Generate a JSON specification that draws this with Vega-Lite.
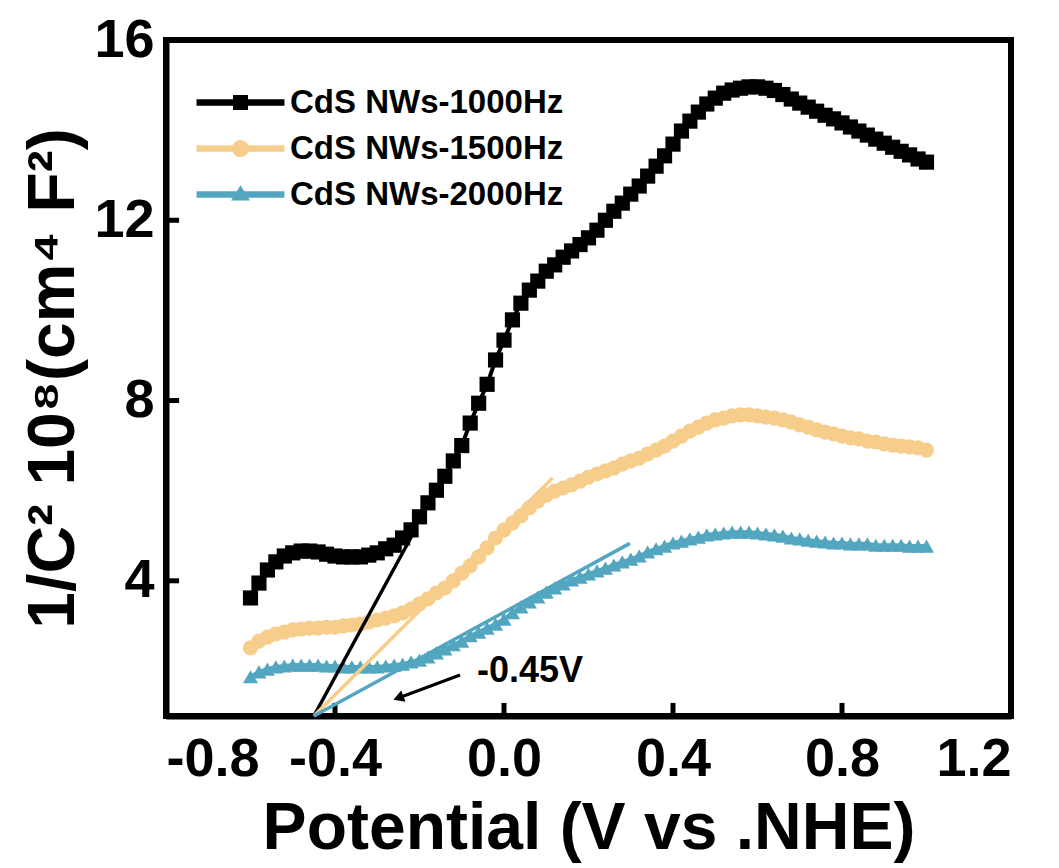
{
  "$schema": "https://vega.github.io/schema/vega-lite/v6.json",
  "width": 845,
  "height": 676,
  "autosize": "none",
  "padding": {"left": 166, "top": 40, "right": 48, "bottom": 152},
  "background": "white",
  "config": {
    "font": "Liberation Sans",
    "view": {"stroke": "black", "strokeWidth": 6},
    "axis": {
      "grid": false,
      "ticks": false,
      "domainColor": "black",
      "domainWidth": 6,
      "labelFont": "Liberation Sans",
      "labelFontWeight": "bold",
      "labelFontSize": 54,
      "labelColor": "black",
      "titleFont": "Liberation Sans",
      "titleFontWeight": "bold",
      "titleFontSize": 66,
      "titleColor": "black"
    }
  },
  "datasets": {
    "curves": [
      {"series": "CdS NWs-1000Hz", "E": -0.60, "invC2": 3.62},
      {"series": "CdS NWs-1000Hz", "E": -0.58, "invC2": 3.95},
      {"series": "CdS NWs-1000Hz", "E": -0.56, "invC2": 4.24},
      {"series": "CdS NWs-1000Hz", "E": -0.54, "invC2": 4.42},
      {"series": "CdS NWs-1000Hz", "E": -0.52, "invC2": 4.55},
      {"series": "CdS NWs-1000Hz", "E": -0.50, "invC2": 4.62},
      {"series": "CdS NWs-1000Hz", "E": -0.48, "invC2": 4.66},
      {"series": "CdS NWs-1000Hz", "E": -0.46, "invC2": 4.66},
      {"series": "CdS NWs-1000Hz", "E": -0.44, "invC2": 4.64},
      {"series": "CdS NWs-1000Hz", "E": -0.42, "invC2": 4.59},
      {"series": "CdS NWs-1000Hz", "E": -0.40, "invC2": 4.55},
      {"series": "CdS NWs-1000Hz", "E": -0.38, "invC2": 4.53},
      {"series": "CdS NWs-1000Hz", "E": -0.36, "invC2": 4.53},
      {"series": "CdS NWs-1000Hz", "E": -0.34, "invC2": 4.53},
      {"series": "CdS NWs-1000Hz", "E": -0.32, "invC2": 4.57},
      {"series": "CdS NWs-1000Hz", "E": -0.30, "invC2": 4.62},
      {"series": "CdS NWs-1000Hz", "E": -0.28, "invC2": 4.71},
      {"series": "CdS NWs-1000Hz", "E": -0.26, "invC2": 4.79},
      {"series": "CdS NWs-1000Hz", "E": -0.24, "invC2": 4.95},
      {"series": "CdS NWs-1000Hz", "E": -0.22, "invC2": 5.13},
      {"series": "CdS NWs-1000Hz", "E": -0.20, "invC2": 5.42},
      {"series": "CdS NWs-1000Hz", "E": -0.18, "invC2": 5.73},
      {"series": "CdS NWs-1000Hz", "E": -0.16, "invC2": 6.01},
      {"series": "CdS NWs-1000Hz", "E": -0.14, "invC2": 6.32},
      {"series": "CdS NWs-1000Hz", "E": -0.12, "invC2": 6.66},
      {"series": "CdS NWs-1000Hz", "E": -0.10, "invC2": 7.00},
      {"series": "CdS NWs-1000Hz", "E": -0.08, "invC2": 7.50},
      {"series": "CdS NWs-1000Hz", "E": -0.06, "invC2": 7.94},
      {"series": "CdS NWs-1000Hz", "E": -0.04, "invC2": 8.36},
      {"series": "CdS NWs-1000Hz", "E": -0.02, "invC2": 8.90},
      {"series": "CdS NWs-1000Hz", "E": 0.00, "invC2": 9.34},
      {"series": "CdS NWs-1000Hz", "E": 0.02, "invC2": 9.79},
      {"series": "CdS NWs-1000Hz", "E": 0.04, "invC2": 10.16},
      {"series": "CdS NWs-1000Hz", "E": 0.06, "invC2": 10.45},
      {"series": "CdS NWs-1000Hz", "E": 0.08, "invC2": 10.65},
      {"series": "CdS NWs-1000Hz", "E": 0.10, "invC2": 10.87},
      {"series": "CdS NWs-1000Hz", "E": 0.12, "invC2": 11.01},
      {"series": "CdS NWs-1000Hz", "E": 0.14, "invC2": 11.18},
      {"series": "CdS NWs-1000Hz", "E": 0.16, "invC2": 11.32},
      {"series": "CdS NWs-1000Hz", "E": 0.18, "invC2": 11.46},
      {"series": "CdS NWs-1000Hz", "E": 0.20, "invC2": 11.61},
      {"series": "CdS NWs-1000Hz", "E": 0.22, "invC2": 11.78},
      {"series": "CdS NWs-1000Hz", "E": 0.24, "invC2": 12.00},
      {"series": "CdS NWs-1000Hz", "E": 0.26, "invC2": 12.20},
      {"series": "CdS NWs-1000Hz", "E": 0.28, "invC2": 12.38},
      {"series": "CdS NWs-1000Hz", "E": 0.30, "invC2": 12.58},
      {"series": "CdS NWs-1000Hz", "E": 0.32, "invC2": 12.76},
      {"series": "CdS NWs-1000Hz", "E": 0.34, "invC2": 12.98},
      {"series": "CdS NWs-1000Hz", "E": 0.36, "invC2": 13.20},
      {"series": "CdS NWs-1000Hz", "E": 0.38, "invC2": 13.43},
      {"series": "CdS NWs-1000Hz", "E": 0.40, "invC2": 13.69},
      {"series": "CdS NWs-1000Hz", "E": 0.42, "invC2": 13.98},
      {"series": "CdS NWs-1000Hz", "E": 0.44, "invC2": 14.20},
      {"series": "CdS NWs-1000Hz", "E": 0.46, "invC2": 14.40},
      {"series": "CdS NWs-1000Hz", "E": 0.48, "invC2": 14.58},
      {"series": "CdS NWs-1000Hz", "E": 0.50, "invC2": 14.71},
      {"series": "CdS NWs-1000Hz", "E": 0.52, "invC2": 14.82},
      {"series": "CdS NWs-1000Hz", "E": 0.54, "invC2": 14.89},
      {"series": "CdS NWs-1000Hz", "E": 0.56, "invC2": 14.93},
      {"series": "CdS NWs-1000Hz", "E": 0.58, "invC2": 14.96},
      {"series": "CdS NWs-1000Hz", "E": 0.60, "invC2": 14.96},
      {"series": "CdS NWs-1000Hz", "E": 0.62, "invC2": 14.93},
      {"series": "CdS NWs-1000Hz", "E": 0.64, "invC2": 14.88},
      {"series": "CdS NWs-1000Hz", "E": 0.66, "invC2": 14.79},
      {"series": "CdS NWs-1000Hz", "E": 0.68, "invC2": 14.69},
      {"series": "CdS NWs-1000Hz", "E": 0.70, "invC2": 14.60},
      {"series": "CdS NWs-1000Hz", "E": 0.72, "invC2": 14.51},
      {"series": "CdS NWs-1000Hz", "E": 0.74, "invC2": 14.42},
      {"series": "CdS NWs-1000Hz", "E": 0.76, "invC2": 14.33},
      {"series": "CdS NWs-1000Hz", "E": 0.78, "invC2": 14.25},
      {"series": "CdS NWs-1000Hz", "E": 0.80, "invC2": 14.16},
      {"series": "CdS NWs-1000Hz", "E": 0.82, "invC2": 14.07},
      {"series": "CdS NWs-1000Hz", "E": 0.84, "invC2": 13.98},
      {"series": "CdS NWs-1000Hz", "E": 0.86, "invC2": 13.89},
      {"series": "CdS NWs-1000Hz", "E": 0.88, "invC2": 13.80},
      {"series": "CdS NWs-1000Hz", "E": 0.90, "invC2": 13.71},
      {"series": "CdS NWs-1000Hz", "E": 0.92, "invC2": 13.62},
      {"series": "CdS NWs-1000Hz", "E": 0.94, "invC2": 13.53},
      {"series": "CdS NWs-1000Hz", "E": 0.96, "invC2": 13.45},
      {"series": "CdS NWs-1000Hz", "E": 0.98, "invC2": 13.36},
      {"series": "CdS NWs-1000Hz", "E": 1.00, "invC2": 13.29},

      {"series": "CdS NWs-1500Hz", "E": -0.60, "invC2": 2.51},
      {"series": "CdS NWs-1500Hz", "E": -0.58, "invC2": 2.66},
      {"series": "CdS NWs-1500Hz", "E": -0.56, "invC2": 2.75},
      {"series": "CdS NWs-1500Hz", "E": -0.54, "invC2": 2.82},
      {"series": "CdS NWs-1500Hz", "E": -0.52, "invC2": 2.86},
      {"series": "CdS NWs-1500Hz", "E": -0.50, "invC2": 2.91},
      {"series": "CdS NWs-1500Hz", "E": -0.48, "invC2": 2.93},
      {"series": "CdS NWs-1500Hz", "E": -0.46, "invC2": 2.95},
      {"series": "CdS NWs-1500Hz", "E": -0.44, "invC2": 2.95},
      {"series": "CdS NWs-1500Hz", "E": -0.42, "invC2": 2.97},
      {"series": "CdS NWs-1500Hz", "E": -0.40, "invC2": 2.97},
      {"series": "CdS NWs-1500Hz", "E": -0.38, "invC2": 3.00},
      {"series": "CdS NWs-1500Hz", "E": -0.36, "invC2": 3.02},
      {"series": "CdS NWs-1500Hz", "E": -0.34, "invC2": 3.04},
      {"series": "CdS NWs-1500Hz", "E": -0.32, "invC2": 3.09},
      {"series": "CdS NWs-1500Hz", "E": -0.30, "invC2": 3.13},
      {"series": "CdS NWs-1500Hz", "E": -0.28, "invC2": 3.17},
      {"series": "CdS NWs-1500Hz", "E": -0.26, "invC2": 3.22},
      {"series": "CdS NWs-1500Hz", "E": -0.24, "invC2": 3.29},
      {"series": "CdS NWs-1500Hz", "E": -0.22, "invC2": 3.37},
      {"series": "CdS NWs-1500Hz", "E": -0.20, "invC2": 3.49},
      {"series": "CdS NWs-1500Hz", "E": -0.18, "invC2": 3.60},
      {"series": "CdS NWs-1500Hz", "E": -0.16, "invC2": 3.73},
      {"series": "CdS NWs-1500Hz", "E": -0.14, "invC2": 3.84},
      {"series": "CdS NWs-1500Hz", "E": -0.12, "invC2": 4.00},
      {"series": "CdS NWs-1500Hz", "E": -0.10, "invC2": 4.17},
      {"series": "CdS NWs-1500Hz", "E": -0.08, "invC2": 4.33},
      {"series": "CdS NWs-1500Hz", "E": -0.06, "invC2": 4.53},
      {"series": "CdS NWs-1500Hz", "E": -0.04, "invC2": 4.73},
      {"series": "CdS NWs-1500Hz", "E": -0.02, "invC2": 4.95},
      {"series": "CdS NWs-1500Hz", "E": 0.00, "invC2": 5.13},
      {"series": "CdS NWs-1500Hz", "E": 0.02, "invC2": 5.28},
      {"series": "CdS NWs-1500Hz", "E": 0.04, "invC2": 5.44},
      {"series": "CdS NWs-1500Hz", "E": 0.06, "invC2": 5.62},
      {"series": "CdS NWs-1500Hz", "E": 0.08, "invC2": 5.77},
      {"series": "CdS NWs-1500Hz", "E": 0.10, "invC2": 5.90},
      {"series": "CdS NWs-1500Hz", "E": 0.12, "invC2": 5.99},
      {"series": "CdS NWs-1500Hz", "E": 0.14, "invC2": 6.06},
      {"series": "CdS NWs-1500Hz", "E": 0.16, "invC2": 6.13},
      {"series": "CdS NWs-1500Hz", "E": 0.18, "invC2": 6.21},
      {"series": "CdS NWs-1500Hz", "E": 0.20, "invC2": 6.30},
      {"series": "CdS NWs-1500Hz", "E": 0.22, "invC2": 6.37},
      {"series": "CdS NWs-1500Hz", "E": 0.24, "invC2": 6.44},
      {"series": "CdS NWs-1500Hz", "E": 0.26, "invC2": 6.50},
      {"series": "CdS NWs-1500Hz", "E": 0.28, "invC2": 6.59},
      {"series": "CdS NWs-1500Hz", "E": 0.30, "invC2": 6.66},
      {"series": "CdS NWs-1500Hz", "E": 0.32, "invC2": 6.72},
      {"series": "CdS NWs-1500Hz", "E": 0.34, "invC2": 6.81},
      {"series": "CdS NWs-1500Hz", "E": 0.36, "invC2": 6.90},
      {"series": "CdS NWs-1500Hz", "E": 0.38, "invC2": 6.99},
      {"series": "CdS NWs-1500Hz", "E": 0.40, "invC2": 7.10},
      {"series": "CdS NWs-1500Hz", "E": 0.42, "invC2": 7.21},
      {"series": "CdS NWs-1500Hz", "E": 0.44, "invC2": 7.32},
      {"series": "CdS NWs-1500Hz", "E": 0.46, "invC2": 7.41},
      {"series": "CdS NWs-1500Hz", "E": 0.48, "invC2": 7.50},
      {"series": "CdS NWs-1500Hz", "E": 0.50, "invC2": 7.57},
      {"series": "CdS NWs-1500Hz", "E": 0.52, "invC2": 7.61},
      {"series": "CdS NWs-1500Hz", "E": 0.54, "invC2": 7.66},
      {"series": "CdS NWs-1500Hz", "E": 0.56, "invC2": 7.68},
      {"series": "CdS NWs-1500Hz", "E": 0.58, "invC2": 7.68},
      {"series": "CdS NWs-1500Hz", "E": 0.60, "invC2": 7.66},
      {"series": "CdS NWs-1500Hz", "E": 0.62, "invC2": 7.63},
      {"series": "CdS NWs-1500Hz", "E": 0.64, "invC2": 7.61},
      {"series": "CdS NWs-1500Hz", "E": 0.66, "invC2": 7.57},
      {"series": "CdS NWs-1500Hz", "E": 0.68, "invC2": 7.52},
      {"series": "CdS NWs-1500Hz", "E": 0.70, "invC2": 7.46},
      {"series": "CdS NWs-1500Hz", "E": 0.72, "invC2": 7.41},
      {"series": "CdS NWs-1500Hz", "E": 0.74, "invC2": 7.35},
      {"series": "CdS NWs-1500Hz", "E": 0.76, "invC2": 7.30},
      {"series": "CdS NWs-1500Hz", "E": 0.78, "invC2": 7.26},
      {"series": "CdS NWs-1500Hz", "E": 0.80, "invC2": 7.21},
      {"series": "CdS NWs-1500Hz", "E": 0.82, "invC2": 7.17},
      {"series": "CdS NWs-1500Hz", "E": 0.84, "invC2": 7.15},
      {"series": "CdS NWs-1500Hz", "E": 0.86, "invC2": 7.10},
      {"series": "CdS NWs-1500Hz", "E": 0.88, "invC2": 7.08},
      {"series": "CdS NWs-1500Hz", "E": 0.90, "invC2": 7.04},
      {"series": "CdS NWs-1500Hz", "E": 0.92, "invC2": 7.01},
      {"series": "CdS NWs-1500Hz", "E": 0.94, "invC2": 6.99},
      {"series": "CdS NWs-1500Hz", "E": 0.96, "invC2": 6.97},
      {"series": "CdS NWs-1500Hz", "E": 0.98, "invC2": 6.95},
      {"series": "CdS NWs-1500Hz", "E": 1.00, "invC2": 6.90},

      {"series": "CdS NWs-2000Hz", "E": -0.60, "invC2": 1.87},
      {"series": "CdS NWs-2000Hz", "E": -0.58, "invC2": 1.98},
      {"series": "CdS NWs-2000Hz", "E": -0.56, "invC2": 2.04},
      {"series": "CdS NWs-2000Hz", "E": -0.54, "invC2": 2.09},
      {"series": "CdS NWs-2000Hz", "E": -0.52, "invC2": 2.11},
      {"series": "CdS NWs-2000Hz", "E": -0.50, "invC2": 2.13},
      {"series": "CdS NWs-2000Hz", "E": -0.48, "invC2": 2.13},
      {"series": "CdS NWs-2000Hz", "E": -0.46, "invC2": 2.13},
      {"series": "CdS NWs-2000Hz", "E": -0.44, "invC2": 2.13},
      {"series": "CdS NWs-2000Hz", "E": -0.42, "invC2": 2.11},
      {"series": "CdS NWs-2000Hz", "E": -0.40, "invC2": 2.11},
      {"series": "CdS NWs-2000Hz", "E": -0.38, "invC2": 2.09},
      {"series": "CdS NWs-2000Hz", "E": -0.36, "invC2": 2.09},
      {"series": "CdS NWs-2000Hz", "E": -0.34, "invC2": 2.09},
      {"series": "CdS NWs-2000Hz", "E": -0.32, "invC2": 2.09},
      {"series": "CdS NWs-2000Hz", "E": -0.30, "invC2": 2.09},
      {"series": "CdS NWs-2000Hz", "E": -0.28, "invC2": 2.11},
      {"series": "CdS NWs-2000Hz", "E": -0.26, "invC2": 2.13},
      {"series": "CdS NWs-2000Hz", "E": -0.24, "invC2": 2.15},
      {"series": "CdS NWs-2000Hz", "E": -0.22, "invC2": 2.20},
      {"series": "CdS NWs-2000Hz", "E": -0.20, "invC2": 2.24},
      {"series": "CdS NWs-2000Hz", "E": -0.18, "invC2": 2.31},
      {"series": "CdS NWs-2000Hz", "E": -0.16, "invC2": 2.40},
      {"series": "CdS NWs-2000Hz", "E": -0.14, "invC2": 2.49},
      {"series": "CdS NWs-2000Hz", "E": -0.12, "invC2": 2.58},
      {"series": "CdS NWs-2000Hz", "E": -0.10, "invC2": 2.66},
      {"series": "CdS NWs-2000Hz", "E": -0.08, "invC2": 2.78},
      {"series": "CdS NWs-2000Hz", "E": -0.06, "invC2": 2.86},
      {"series": "CdS NWs-2000Hz", "E": -0.04, "invC2": 2.95},
      {"series": "CdS NWs-2000Hz", "E": -0.02, "invC2": 3.04},
      {"series": "CdS NWs-2000Hz", "E": 0.00, "invC2": 3.15},
      {"series": "CdS NWs-2000Hz", "E": 0.02, "invC2": 3.29},
      {"series": "CdS NWs-2000Hz", "E": 0.04, "invC2": 3.42},
      {"series": "CdS NWs-2000Hz", "E": 0.06, "invC2": 3.53},
      {"series": "CdS NWs-2000Hz", "E": 0.08, "invC2": 3.64},
      {"series": "CdS NWs-2000Hz", "E": 0.10, "invC2": 3.75},
      {"series": "CdS NWs-2000Hz", "E": 0.12, "invC2": 3.84},
      {"series": "CdS NWs-2000Hz", "E": 0.14, "invC2": 3.93},
      {"series": "CdS NWs-2000Hz", "E": 0.16, "invC2": 4.02},
      {"series": "CdS NWs-2000Hz", "E": 0.18, "invC2": 4.08},
      {"series": "CdS NWs-2000Hz", "E": 0.20, "invC2": 4.15},
      {"series": "CdS NWs-2000Hz", "E": 0.22, "invC2": 4.22},
      {"series": "CdS NWs-2000Hz", "E": 0.24, "invC2": 4.28},
      {"series": "CdS NWs-2000Hz", "E": 0.26, "invC2": 4.35},
      {"series": "CdS NWs-2000Hz", "E": 0.28, "invC2": 4.42},
      {"series": "CdS NWs-2000Hz", "E": 0.30, "invC2": 4.48},
      {"series": "CdS NWs-2000Hz", "E": 0.32, "invC2": 4.55},
      {"series": "CdS NWs-2000Hz", "E": 0.34, "invC2": 4.64},
      {"series": "CdS NWs-2000Hz", "E": 0.36, "invC2": 4.71},
      {"series": "CdS NWs-2000Hz", "E": 0.38, "invC2": 4.77},
      {"series": "CdS NWs-2000Hz", "E": 0.40, "invC2": 4.84},
      {"series": "CdS NWs-2000Hz", "E": 0.42, "invC2": 4.88},
      {"series": "CdS NWs-2000Hz", "E": 0.44, "invC2": 4.93},
      {"series": "CdS NWs-2000Hz", "E": 0.46, "invC2": 4.97},
      {"series": "CdS NWs-2000Hz", "E": 0.48, "invC2": 5.02},
      {"series": "CdS NWs-2000Hz", "E": 0.50, "invC2": 5.04},
      {"series": "CdS NWs-2000Hz", "E": 0.52, "invC2": 5.06},
      {"series": "CdS NWs-2000Hz", "E": 0.54, "invC2": 5.08},
      {"series": "CdS NWs-2000Hz", "E": 0.56, "invC2": 5.08},
      {"series": "CdS NWs-2000Hz", "E": 0.58, "invC2": 5.08},
      {"series": "CdS NWs-2000Hz", "E": 0.60, "invC2": 5.06},
      {"series": "CdS NWs-2000Hz", "E": 0.62, "invC2": 5.04},
      {"series": "CdS NWs-2000Hz", "E": 0.64, "invC2": 5.02},
      {"series": "CdS NWs-2000Hz", "E": 0.66, "invC2": 4.99},
      {"series": "CdS NWs-2000Hz", "E": 0.68, "invC2": 4.95},
      {"series": "CdS NWs-2000Hz", "E": 0.70, "invC2": 4.93},
      {"series": "CdS NWs-2000Hz", "E": 0.72, "invC2": 4.90},
      {"series": "CdS NWs-2000Hz", "E": 0.74, "invC2": 4.88},
      {"series": "CdS NWs-2000Hz", "E": 0.76, "invC2": 4.86},
      {"series": "CdS NWs-2000Hz", "E": 0.78, "invC2": 4.84},
      {"series": "CdS NWs-2000Hz", "E": 0.80, "invC2": 4.84},
      {"series": "CdS NWs-2000Hz", "E": 0.82, "invC2": 4.82},
      {"series": "CdS NWs-2000Hz", "E": 0.84, "invC2": 4.82},
      {"series": "CdS NWs-2000Hz", "E": 0.86, "invC2": 4.82},
      {"series": "CdS NWs-2000Hz", "E": 0.88, "invC2": 4.79},
      {"series": "CdS NWs-2000Hz", "E": 0.90, "invC2": 4.79},
      {"series": "CdS NWs-2000Hz", "E": 0.92, "invC2": 4.79},
      {"series": "CdS NWs-2000Hz", "E": 0.94, "invC2": 4.79},
      {"series": "CdS NWs-2000Hz", "E": 0.96, "invC2": 4.77},
      {"series": "CdS NWs-2000Hz", "E": 0.98, "invC2": 4.77},
      {"series": "CdS NWs-2000Hz", "E": 1.00, "invC2": 4.77}
    ],
    "tangents": [
      {"series": "CdS NWs-1000Hz", "E": -0.45, "invC2": 1.0},
      {"series": "CdS NWs-1000Hz", "E": -0.218, "invC2": 5.0},
      {"series": "CdS NWs-1500Hz", "E": -0.45, "invC2": 1.0},
      {"series": "CdS NWs-1500Hz", "E": 0.115, "invC2": 6.28},
      {"series": "CdS NWs-2000Hz", "E": -0.45, "invC2": 1.0},
      {"series": "CdS NWs-2000Hz", "E": 0.298, "invC2": 4.83}
    ],
    "arrow": [
      {"E": -0.104, "invC2": 1.91, "E2": -0.25, "invC2b": 1.40, "label": "-0.45V", "labelE": -0.064, "labelC": 2.0}
    ],
    "xTicks": [{"E": -0.4}, {"E": 0.0}, {"E": 0.4}, {"E": 0.8}],
    "yTicks": [{"invC2": 4}, {"invC2": 8}, {"invC2": 12}]
  },
  "layer": [
    {
      "data": {"name": "curves"},
      "transform": [{"filter": "false"}],
      "mark": {"type": "point", "filled": true, "opacity": 1},
      "encoding": {
        "x": {
          "field": "E", "type": "quantitative",
          "scale": {"domain": [-0.8, 1.2], "nice": false, "zero": false},
          "axis": {
            "title": "Potential (V vs .NHE)",
            "values": [-0.8, -0.4, 0, 0.4, 0.8, 1.2],
            "labelExpr": "replace(format(datum.value, '.1f'), '\u2212', '-')",
            "labelPadding": 16,
            "titlePadding": 10
          }
        },
        "y": {
          "field": "invC2", "type": "quantitative",
          "scale": {"domain": [1, 16], "nice": false, "zero": false},
          "axis": {
            "title": "1/C² 10⁸(cm⁴ F²)",
            "values": [4, 8, 12, 16],
            "labelPadding": 12,
            "titlePadding": 6
          }
        },
        "color": {
          "field": "series", "type": "nominal",
          "scale": {
            "domain": ["CdS NWs-1000Hz", "CdS NWs-1500Hz", "CdS NWs-2000Hz"],
            "range": ["#000000", "#F6CD8B", "#53A6C0"]
          },
          "legend": {
            "title": null,
            "orient": "none",
            "legendX": 29,
            "legendY": 46,
            "padding": 0,
            "symbolSize": 900,
            "symbolOffset": 29,
            "symbolStrokeWidth": 0,
            "symbolOpacity": 1,
            "labelOffset": 33,
            "rowPadding": 12,
            "labelFont": "Liberation Sans",
            "labelFontSize": 33,
            "labelFontWeight": "bold",
            "labelColor": "black",
            "labelLimit": 600
          }
        },
        "shape": {
          "field": "series", "type": "nominal",
          "scale": {
            "domain": ["CdS NWs-1000Hz", "CdS NWs-1500Hz", "CdS NWs-2000Hz"],
            "range": [
              "M-2.93,-0.22L2.93,-0.22L2.93,0.22L-2.93,0.22ZM-0.5,-0.5L0.5,-0.5L0.5,0.5L-0.5,0.5Z",
              "M-2.93,-0.22L2.93,-0.22L2.93,0.22L-2.93,0.22ZM-0.57,0A0.57,0.57 0 1,1 0.57,0A0.57,0.57 0 1,1 -0.57,0Z",
              "M-2.93,-0.22L2.93,-0.22L2.93,0.22L-2.93,0.22ZM0,-0.62L0.63,0.4L-0.63,0.4Z"
            ]
          }
        }
      }
    },
    {
      "data": {"name": "xTicks"},
      "mark": {"type": "rule", "color": "black", "strokeWidth": 5},
      "encoding": {
        "x": {"field": "E", "type": "quantitative"},
        "y": {"datum": 1.0},
        "y2": {"datum": 1.29}
      }
    },
    {
      "data": {"name": "yTicks"},
      "mark": {"type": "rule", "color": "black", "strokeWidth": 5},
      "encoding": {
        "y": {"field": "invC2", "type": "quantitative"},
        "x": {"datum": -0.8},
        "x2": {"datum": -0.769}
      }
    },
    {
      "data": {"name": "curves"},
      "mark": {"type": "line", "strokeWidth": 4},
      "encoding": {
        "x": {"field": "E", "type": "quantitative"},
        "y": {"field": "invC2", "type": "quantitative"},
        "color": {"field": "series", "type": "nominal", "legend": null}
      }
    },
    {
      "data": {"name": "curves"},
      "transform": [{"filter": "datum.series === 'CdS NWs-1000Hz'"}],
      "mark": {"type": "point", "shape": "square", "filled": true, "opacity": 1, "size": 230},
      "encoding": {
        "x": {"field": "E", "type": "quantitative"},
        "y": {"field": "invC2", "type": "quantitative"},
        "color": {"field": "series", "type": "nominal", "legend": null}
      }
    },
    {
      "data": {"name": "curves"},
      "transform": [{"filter": "datum.series === 'CdS NWs-1500Hz'"}],
      "mark": {"type": "point", "shape": "circle", "filled": true, "opacity": 1, "size": 230},
      "encoding": {
        "x": {"field": "E", "type": "quantitative"},
        "y": {"field": "invC2", "type": "quantitative"},
        "color": {"field": "series", "type": "nominal", "legend": null}
      }
    },
    {
      "data": {"name": "curves"},
      "transform": [{"filter": "datum.series === 'CdS NWs-2000Hz'"}],
      "mark": {"type": "point", "shape": "triangle-up", "filled": true, "opacity": 1, "size": 230},
      "encoding": {
        "x": {"field": "E", "type": "quantitative"},
        "y": {"field": "invC2", "type": "quantitative"},
        "color": {"field": "series", "type": "nominal", "legend": null}
      }
    },
    {
      "data": {"name": "tangents"},
      "mark": {"type": "line", "strokeWidth": 3.5},
      "encoding": {
        "x": {"field": "E", "type": "quantitative"},
        "y": {"field": "invC2", "type": "quantitative"},
        "color": {"field": "series", "type": "nominal", "legend": null},
        "detail": {"field": "series"}
      }
    },
    {
      "data": {"name": "arrow"},
      "mark": {"type": "rule", "color": "black", "strokeWidth": 3},
      "encoding": {
        "x": {"field": "E", "type": "quantitative"},
        "y": {"field": "invC2", "type": "quantitative"},
        "x2": {"field": "E2"},
        "y2": {"field": "invC2b"}
      }
    },
    {
      "data": {"name": "arrow"},
      "mark": {"type": "point", "shape": "triangle-up", "filled": true, "color": "black", "opacity": 1, "size": 150, "angle": 249.5},
      "encoding": {
        "x": {"field": "E2", "type": "quantitative"},
        "y": {"field": "invC2b", "type": "quantitative"}
      }
    },
    {
      "data": {"name": "arrow"},
      "mark": {"type": "text", "font": "Liberation Sans", "fontWeight": "bold", "fontSize": 36, "align": "left", "baseline": "middle", "color": "black"},
      "encoding": {
        "x": {"field": "labelE", "type": "quantitative"},
        "y": {"field": "labelC", "type": "quantitative"},
        "text": {"field": "label"}
      }
    }
  ]
}
